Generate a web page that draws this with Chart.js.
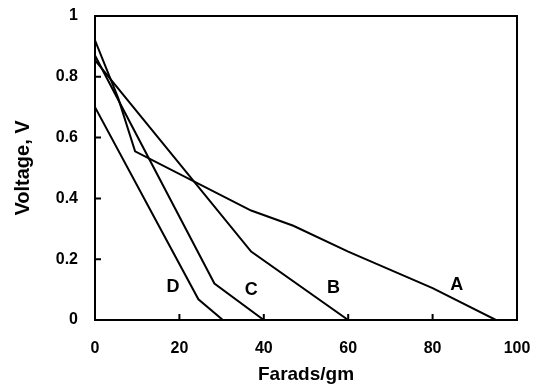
<!DOCTYPE html>
<html>
<head>
<meta charset="utf-8">
<script src="https://cdn.jsdelivr.net/npm/chart.js@4/dist/chart.umd.min.js"></script>
<style>
  body { margin: 0; background: #fff; }
</style>
</head>
<body>
<canvas id="VoltChart" width="533" height="388"></canvas>
<script>
// data
var aX = [0, 5.5, 9.5, 37, 47, 60, 80, 95];
var aY = [0.92, 0.73, 0.555, 0.36, 0.31, 0.225, 0.105, 0];
var bX = [0, 37, 60];
var bY = [0.855, 0.225, 0];
var cX = [0, 28.3, 40];
var cY = [0.87, 0.12, 0];
var dX = [0, 24.5, 30.3];
var dY = [0.70, 0.068, 0];

var xTicks = [0, 20, 40, 60, 80, 100];
var yTicks = [0, 0.2, 0.4, 0.6, 0.8, 1];

// curve names and where they sit (data units)
var curveNames = ['A', 'B', 'C', 'D'];
var nameX = [85.7, 56.5, 37, 18.5];
var nameY = [0.114, 0.104, 0.098, 0.109];

function pts(xs, ys) {
    return xs.map(function (x, i) { return { x: x, y: ys[i] }; });
}

var boldFont = '"Liberation Sans", Arial, sans-serif';

// box round the plot, inward tick marks, curve letters
var framePlugin = {
    id: 'frame',
    afterDraw: function (chart) {
        var ctx = chart.ctx;
        var a = chart.chartArea;
        var xs = chart.scales.x, ys = chart.scales.y;
        ctx.save();
        ctx.strokeStyle = '#000';
        ctx.lineWidth = 2;
        ctx.strokeRect(a.left, a.top, a.right - a.left, a.bottom - a.top);
        ctx.beginPath();
        xTicks.slice(1, -1).forEach(function (v) {
            var px = xs.getPixelForValue(v);
            ctx.moveTo(px, a.bottom);
            ctx.lineTo(px, a.bottom - 6);
        });
        yTicks.slice(1, -1).forEach(function (v) {
            var py = ys.getPixelForValue(v);
            ctx.moveTo(a.left, py);
            ctx.lineTo(a.left + 6, py);
        });
        ctx.stroke();
        ctx.fillStyle = '#000';
        ctx.font = 'bold 18px ' + boldFont;
        ctx.textAlign = 'center';
        ctx.textBaseline = 'middle';
        curveNames.forEach(function (n, i) {
            ctx.fillText(n, xs.getPixelForValue(nameX[i]), ys.getPixelForValue(nameY[i]));
        });
        ctx.restore();
    }
};

function lineSet(label, xs, ys) {
    return {
        label: label,
        data: pts(xs, ys),
        borderColor: '#000',
        borderWidth: 2,
        pointRadius: 0,
        fill: false,
        tension: 0
    };
}

var ctx = document.getElementById('VoltChart').getContext('2d');
var voltChart = new Chart(ctx, {
    type: 'line',
    data: {
        datasets: [
            lineSet('A', aX, aY),
            lineSet('B', bX, bY),
            lineSet('C', cX, cY),
            lineSet('D', dX, dY)
        ]
    },
    options: {
        responsive: false,
        animation: false,
        layout: { padding: { top: 16, right: 16, left: 7, bottom: 2 } },
        plugins: { legend: { display: false }, tooltip: { enabled: false } },
        scales: {
            x: {
                type: 'linear',
                min: 0,
                max: 100,
                afterFit: function (s) {
                    s.height = 66;
                    s.paddingLeft = 0;
                    s.paddingRight = 0;
                },
                afterBuildTicks: function (s) { s.ticks = xTicks.map(function (v) { return { value: v }; }); },
                grid: { display: false, drawTicks: false },
                border: { display: false },
                ticks: {
                    color: '#000',
                    padding: 19,
                    font: { family: boldFont, size: 16, weight: 'bold' }
                },
                title: {
                    display: true,
                    text: 'Farads/gm',
                    color: '#000',
                    padding: { top: 0, bottom: 0 },
                    font: { family: boldFont, size: 19, weight: 'bold' }
                }
            },
            y: {
                min: 0,
                max: 1,
                afterFit: function (s) {
                    s.width = 88;
                    s.paddingTop = 0;
                    s.paddingBottom = 0;
                },
                afterBuildTicks: function (s) { s.ticks = yTicks.map(function (v) { return { value: v }; }); },
                grid: { display: false, drawTicks: false },
                border: { display: false },
                ticks: {
                    color: '#000',
                    padding: 17,
                    font: { family: boldFont, size: 16, weight: 'bold' },
                    callback: function (v) { return String(Math.round(v * 10) / 10); }
                },
                title: {
                    display: true,
                    text: 'Voltage, V',
                    color: '#000',
                    padding: { top: 4, bottom: 0 },
                    font: { family: boldFont, size: 20, weight: 'bold' }
                }
            }
        }
    },
    plugins: [framePlugin]
});
</script>
</body>
</html>
